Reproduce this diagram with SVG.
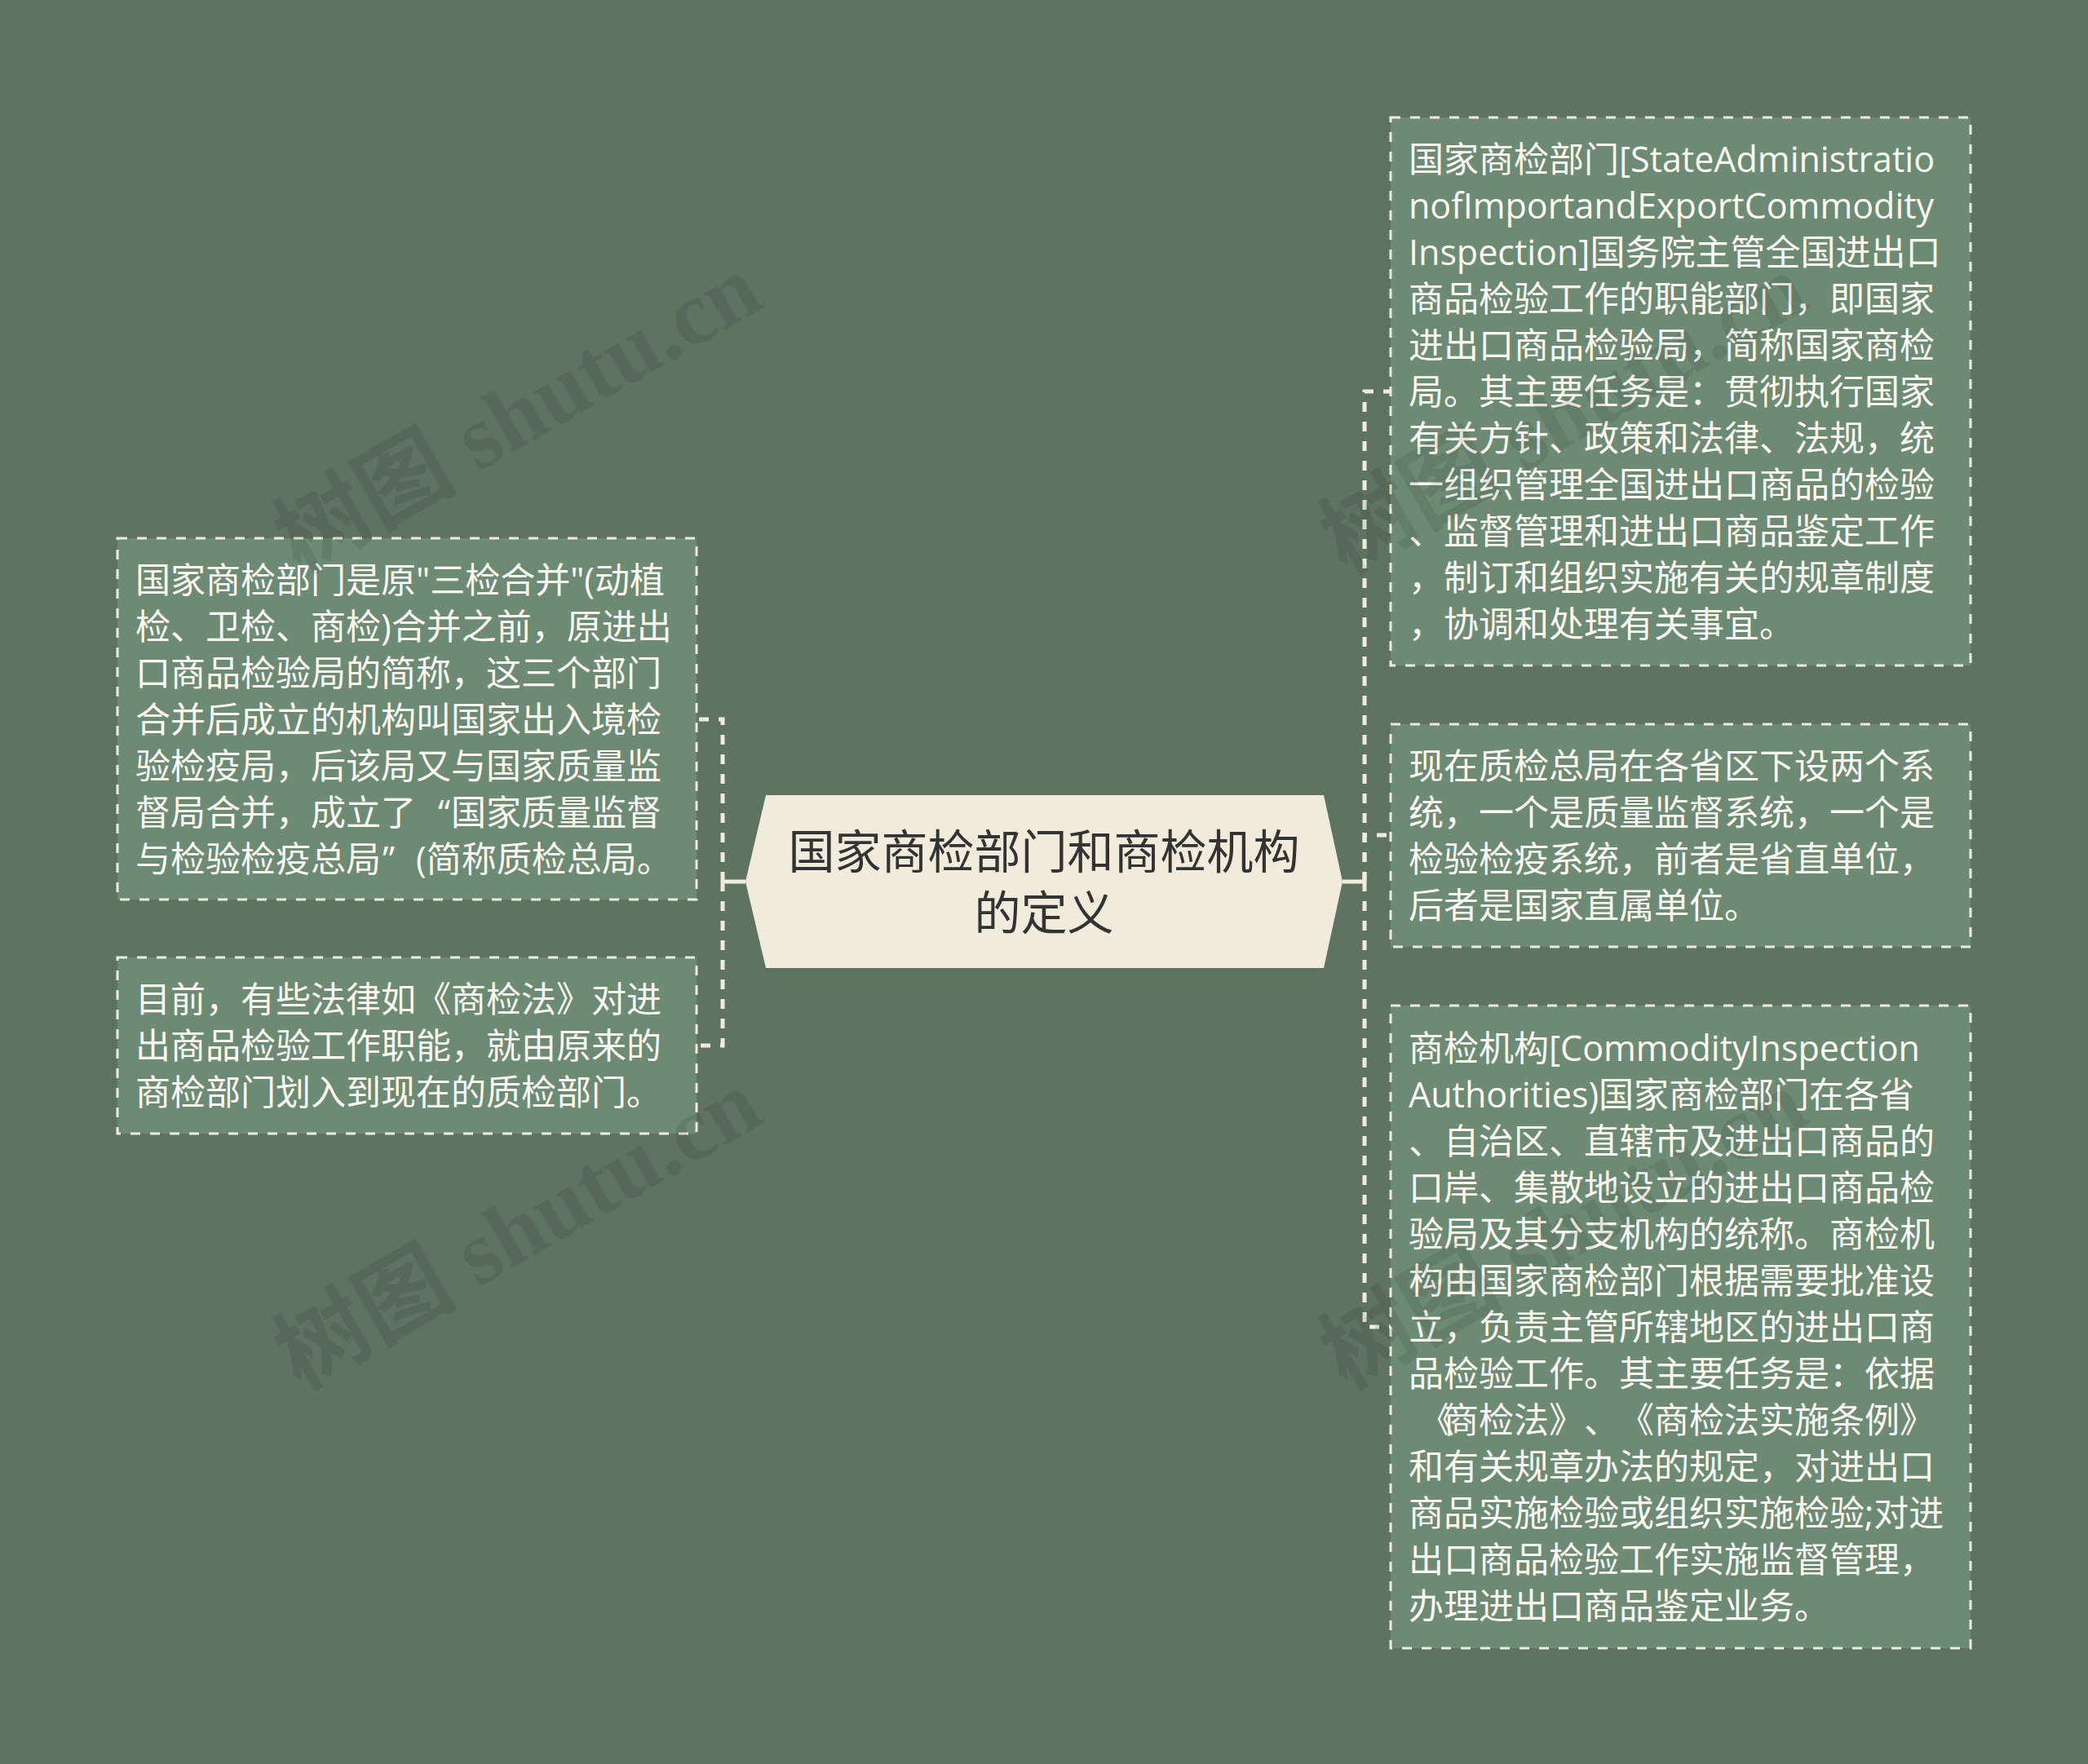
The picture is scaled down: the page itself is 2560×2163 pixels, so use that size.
<svg xmlns="http://www.w3.org/2000/svg" width="2560" height="2163" viewBox="0 0 2560 2163">
<style>
.bg{fill:#5F7363}
.box{fill:#6C8A74;stroke:#F0ECDC;stroke-width:3;stroke-dasharray:12 12}
.t{font-family:'Open Sans','Noto Sans CJK SC',sans-serif;font-size:43px;fill:#FBF9F1}
.conn path{fill:none;stroke:#F0ECDC;stroke-width:5;stroke-dasharray:12 12}
.conn path.solid{stroke-dasharray:none}
.root{fill:#F0EBDB}
.rt{font-family:'Noto Sans CJK SC',sans-serif;font-size:57px;fill:#333333;text-anchor:middle}
.wm{font-family:'Liberation Serif','Noto Sans CJK SC',serif;font-size:112px;font-weight:bold;fill:#000000;fill-opacity:0.09}
</style>
<rect class="bg" x="0" y="0" width="2560" height="2163"/>

<g id="connectors" class="conn">
  <path class="solid" d="M914 1081 H886"/>
  <path d="M886 1081 V882 H854"/>
  <path d="M886 1081 V1282 H854"/>
  <path class="solid" d="M1646 1081 H1673"/>
  <path d="M1673 1081 V480 H1705"/>
  <path d="M1673 1081 V1024 H1705"/>
  <path d="M1673 1081 V1627 H1705"/>
</g>

<g id="root">
  <polygon class="root" points="914,1081 939,975 1623,975 1646,1081 1623,1187 939,1187"/>
  <text class="rt" x="1280" y="1065">国家商检部门和商检机构</text>
  <text class="rt" x="1280" y="1140">的定义</text>
</g>

<g id="left1">
  <rect class="box" x="144" y="660" width="710" height="443"/>
  <text class="t" x="166" y="727">国家商检部门是原"三检合并"(动植</text>
  <text class="t" x="166" y="784">检、卫检、商检)合并之前，原进出</text>
  <text class="t" x="166" y="841">口商品检验局的简称，这三个部门</text>
  <text class="t" x="166" y="898">合并后成立的机构叫国家出入境检</text>
  <text class="t" x="166" y="955">验检疫局，后该局又与国家质量监</text>
  <text class="t" y="1012"><tspan x="166">督局合并，成立了</tspan><tspan x="537">“</tspan><tspan x="553">国家质量监督</tspan></text>
  <text class="t" y="1069"><tspan x="166">与检验检疫总局</tspan><tspan x="469">”</tspan><tspan x="510">(简称质检总局。</tspan></text>
</g>

<g id="left2">
  <rect class="box" x="144" y="1174" width="710" height="216"/>
  <text class="t" x="166" y="1241">目前，有些法律如《商检法》对进</text>
  <text class="t" x="166" y="1298">出商品检验工作职能，就由原来的</text>
  <text class="t" x="166" y="1355">商检部门划入到现在的质检部门。</text>
</g>

<g id="right1">
  <rect class="box" x="1705" y="144" width="711" height="672"/>
  <text class="t" x="1727" y="211">国家商检部门[StateAdministratio</text>
  <text class="t" x="1727" y="268">nofImportandExportCommodity</text>
  <text class="t" x="1727" y="325">Inspection]国务院主管全国进出口</text>
  <text class="t" x="1727" y="382">商品检验工作的职能部门，即国家</text>
  <text class="t" x="1727" y="439">进出口商品检验局，简称国家商检</text>
  <text class="t" x="1727" y="496">局。其主要任务是：贯彻执行国家</text>
  <text class="t" x="1727" y="553">有关方针、政策和法律、法规，统</text>
  <text class="t" x="1727" y="610">一组织管理全国进出口商品的检验</text>
  <text class="t" x="1727" y="667">、监督管理和进出口商品鉴定工作</text>
  <text class="t" x="1727" y="724">，制订和组织实施有关的规章制度</text>
  <text class="t" x="1727" y="781">，协调和处理有关事宜。</text>
</g>

<g id="right2">
  <rect class="box" x="1705" y="888" width="711" height="273"/>
  <text class="t" x="1727" y="955">现在质检总局在各省区下设两个系</text>
  <text class="t" x="1727" y="1012">统，一个是质量监督系统，一个是</text>
  <text class="t" x="1727" y="1069">检验检疫系统，前者是省直单位，</text>
  <text class="t" x="1727" y="1126">后者是国家直属单位。</text>
</g>

<g id="right3">
  <rect class="box" x="1705" y="1233" width="711" height="788"/>
  <text class="t" x="1727" y="1301">商检机构[CommodityInspection</text>
  <text class="t" x="1727" y="1358">Authorities)国家商检部门在各省</text>
  <text class="t" x="1727" y="1415">、自治区、直辖市及进出口商品的</text>
  <text class="t" x="1727" y="1472">口岸、集散地设立的进出口商品检</text>
  <text class="t" x="1727" y="1529">验局及其分支机构的统称。商检机</text>
  <text class="t" x="1727" y="1586">构由国家商检部门根据需要批准设</text>
  <text class="t" x="1727" y="1643">立，负责主管所辖地区的进出口商</text>
  <text class="t" x="1727" y="1700">品检验工作。其主要任务是：依据</text>
  <text class="t" x="1740 1770 1813 1856 1899 1942 1985 2028 2071 2114 2157 2200 2243 2286 2329" y="1757">《商检法》、《商检法实施条例》</text>
  <text class="t" x="1727" y="1814">和有关规章办法的规定，对进出口</text>
  <text class="t" x="1727" y="1871">商品实施检验或组织实施检验;对进</text>
  <text class="t" x="1727" y="1928">出口商品检验工作实施监督管理，</text>
  <text class="t" x="1727" y="1985">办理进出口商品鉴定业务。</text>
</g>

<g id="watermark">
  <text class="wm" transform="translate(368,705) rotate(-30)">树图 shutu.cn</text>
  <text class="wm" transform="translate(368,1705) rotate(-30)">树图 shutu.cn</text>
  <text class="wm" transform="translate(1650,705) rotate(-30)">树图 shutu.cn</text>
  <text class="wm" transform="translate(1650,1705) rotate(-30)">树图 shutu.cn</text>
</g>
</svg>
